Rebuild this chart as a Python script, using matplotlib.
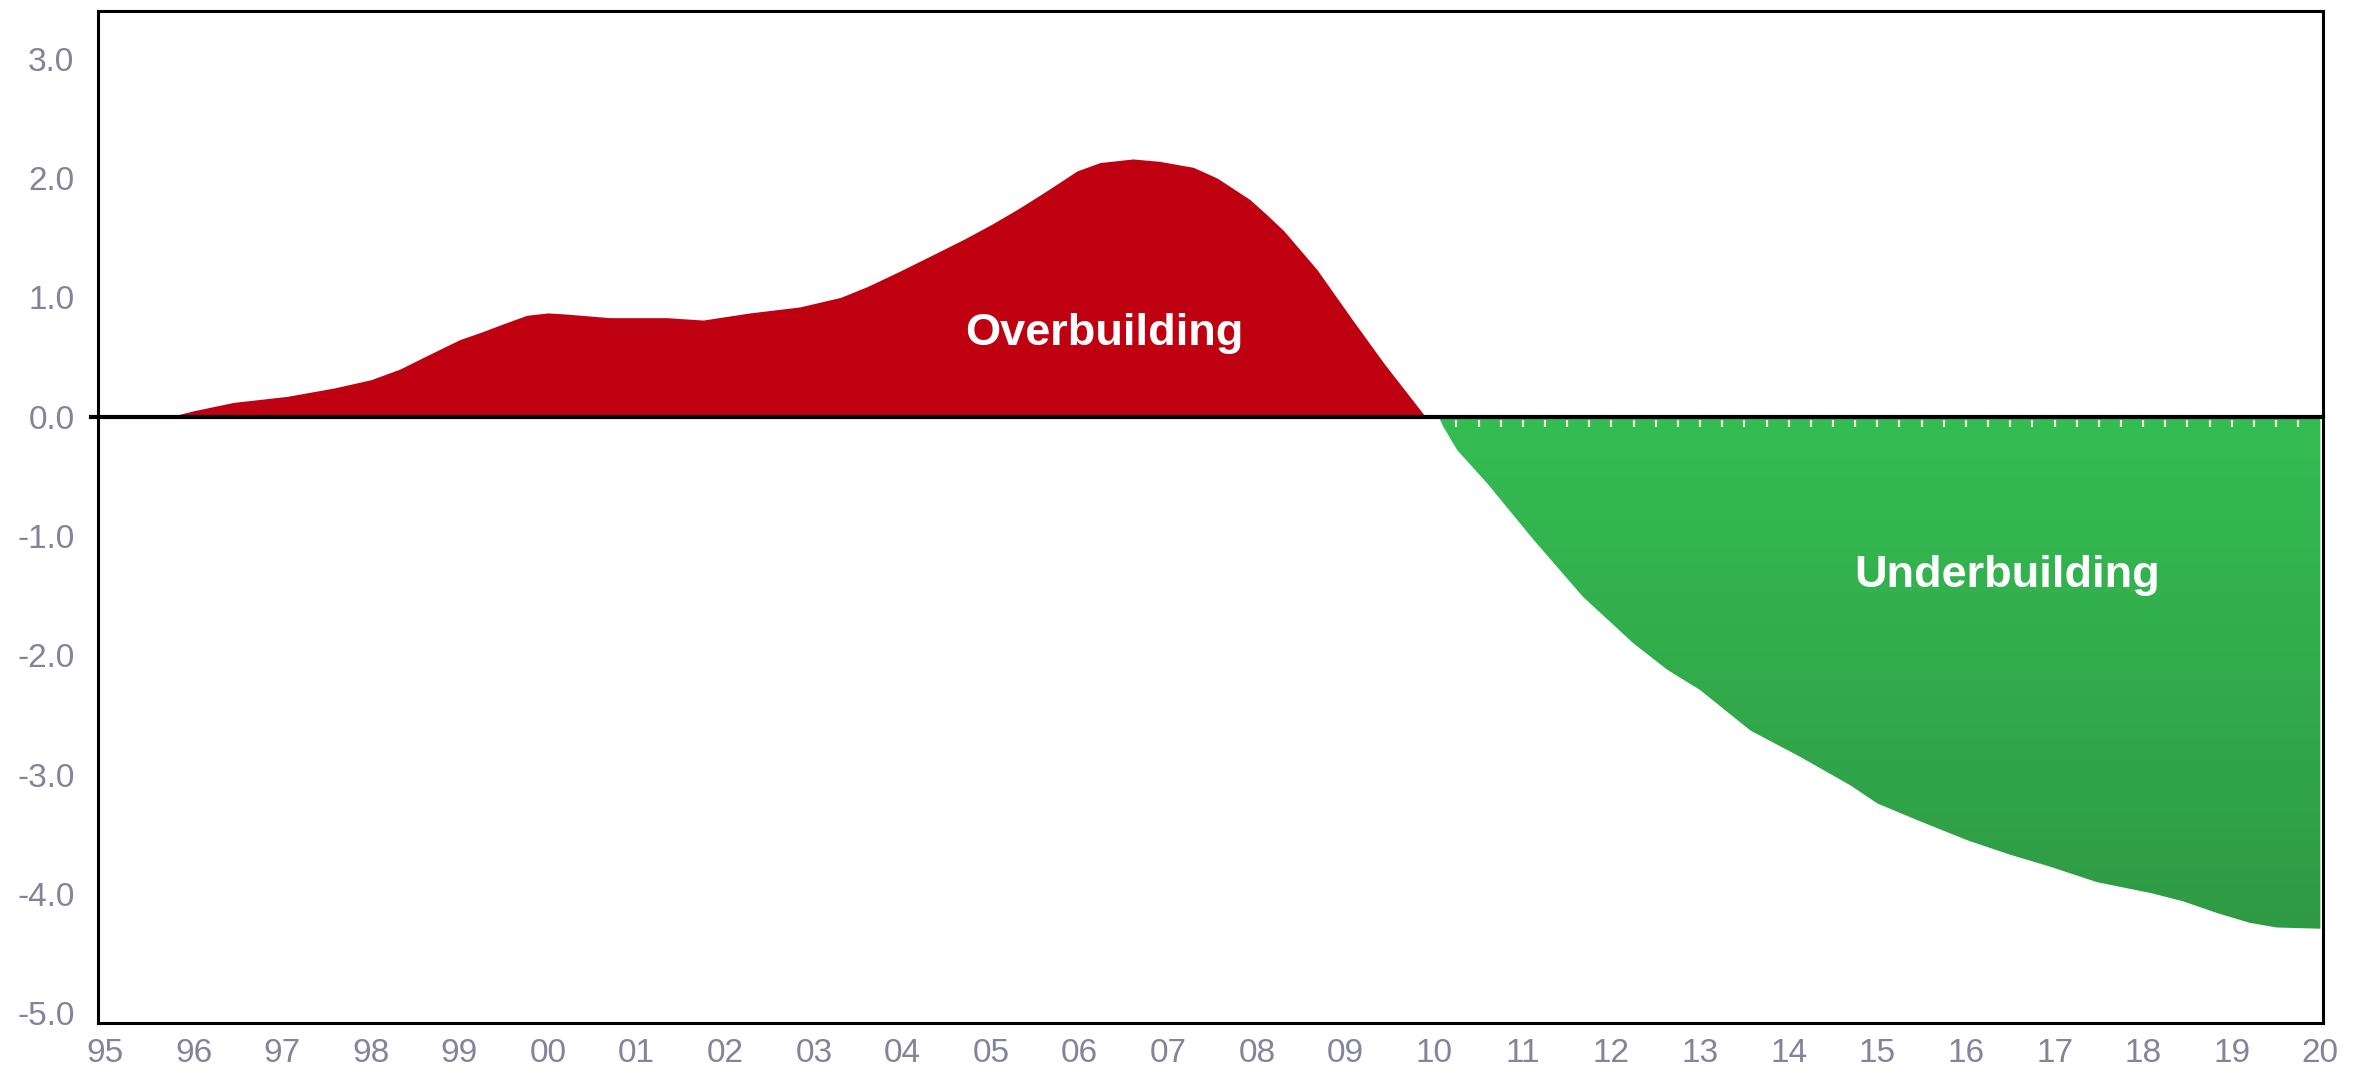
import matplotlib
matplotlib.use("Agg")
import matplotlib.pyplot as plt
import numpy as np
from matplotlib.colors import LinearSegmentedColormap

# years counted from 1995 (0 = '95, 25 = '20)
over_x = [0.73, 1.0, 1.45, 2.05, 2.58, 3.0, 3.33, 3.6, 4.0, 4.25, 4.5, 4.76, 5.0, 5.21,
          5.7, 6.34, 6.75, 7.28, 7.84, 8.3, 8.6, 8.97, 9.35, 9.7, 10.0, 10.3, 10.6,
          10.97, 11.23, 11.6, 11.9, 12.28, 12.55, 12.92, 13.1, 13.3, 13.68, 14.05,
          14.43, 14.88, 14.92]
over_y = [0.0, 0.05, 0.12, 0.17, 0.24, 0.31, 0.40, 0.50, 0.645, 0.71, 0.78, 0.85, 0.87, 0.86,
          0.83, 0.83, 0.81, 0.87, 0.92, 1.0, 1.09, 1.22, 1.36, 1.49, 1.61, 1.74, 1.88,
          2.06, 2.13, 2.16, 2.14, 2.09, 2.0, 1.82, 1.70, 1.56, 1.23, 0.84,
          0.45, 0.02, 0.0]

under_x = [15.05, 15.1, 15.26, 15.6, 16.12, 16.68, 17.25, 17.63, 18.0, 18.57, 19.13, 19.7,
           20.0, 20.45, 21.02, 21.5, 21.95, 22.48, 23.08, 23.45, 23.84, 24.2, 24.51, 25.0]
under_y = [0.0, -0.08, -0.28, -0.56, -1.03, -1.51, -1.90, -2.12, -2.29, -2.63, -2.85, -3.09,
           -3.24, -3.38, -3.55, -3.67, -3.77, -3.90, -3.99, -4.06, -4.16, -4.24, -4.28, -4.29]

x_labels = ['95', '96', '97', '98', '99', '00', '01', '02', '03', '04', '05', '06', '07',
            '08', '09', '10', '11', '12', '13', '14', '15', '16', '17', '18', '19', '20']
y_ticks = [-5, -4, -3, -2, -1, 0, 1, 2, 3]

plt.rcParams['font.family'] = ['Liberation Sans', 'DejaVu Sans']

fig = plt.figure(figsize=(23.57, 10.74), dpi=100, facecolor='white')
ax = fig.add_axes([0.04158, 0.04749, 0.944, 0.9423])

# overbuilding area
ax.fill_between(over_x, over_y, 0, color='#bf0011', lw=0, zorder=2)

# underbuilding area with vertical gradient
green = ax.fill_between(under_x, under_y, 0, color='none', lw=0, zorder=2)
clip = green.get_paths()[0]
grad = np.linspace(0, 1, 256).reshape(-1, 1)
cmap = LinearSegmentedColormap.from_list('grn', ['#34bd53', '#2f9a44'])
im = ax.imshow(grad, cmap=cmap, aspect='auto', origin='upper', zorder=2,
               extent=[under_x[0], under_x[-1], min(under_y), 0])
im.set_clip_path(clip, transform=ax.transData)

# quarterly ticks only visible over the green area
quarters = np.arange(0.25, 25, 0.25)
qt = ax.vlines(quarters, -0.085, -0.025, color='#f3e2d8', lw=1.6, zorder=3)
qt.set_clip_path(clip, transform=ax.transData)

ax.axhline(0, xmin=-0.003, xmax=1, color='black', lw=3, clip_on=False, zorder=4)

ax.text(11.28, 0.60, 'Overbuilding', ha='center', va='baseline', fontsize=32.5,
        fontweight='bold', color='white', zorder=5)
ax.text(21.47, -1.425, 'Underbuilding', ha='center', va='baseline', fontsize=32.5,
        fontweight='bold', color='white', zorder=5)

ax.set_xlim(-0.079, 25.03)
ax.set_ylim(-5.08, 3.40)
ax.set_xticks(range(len(x_labels)))
ax.set_xticklabels(x_labels)
ax.set_yticks(y_ticks)
ax.set_yticklabels([f'{v:.1f}' for v in y_ticks])
ax.tick_params(axis='both', length=0, labelsize=24, labelcolor='#83839b')
ax.tick_params(axis='x', pad=11)
ax.tick_params(axis='y', pad=17)
for s in ax.spines.values():
    s.set_linewidth(2.2)
    s.set_color('black')

fig.savefig('out.png', dpi=100, facecolor='white')
